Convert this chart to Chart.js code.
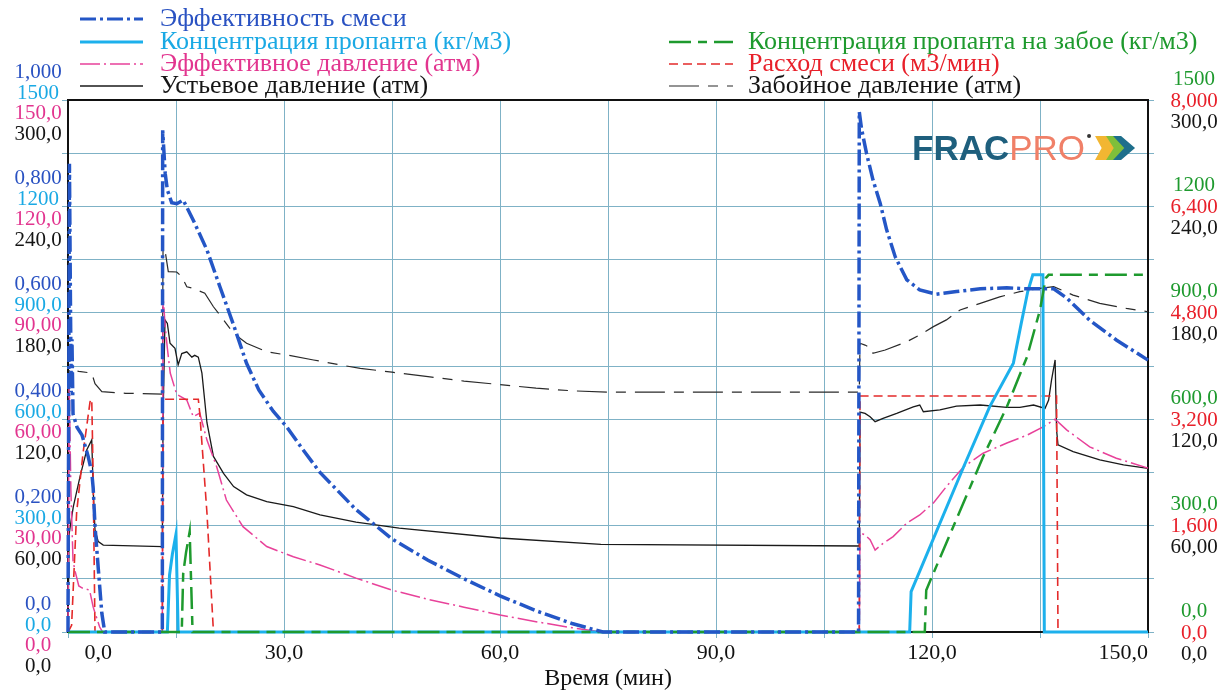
<!DOCTYPE html>
<html>
<head>
<meta charset="utf-8">
<script src="https://cdn.jsdelivr.net/npm/chart.js@4.4.0/dist/chart.umd.min.js"></script>
<style>
  html, body { margin: 0; padding: 0; background: #fff; }
</style>
</head>
<body>
<canvas id="frac" width="1222" height="693"></canvas>
<script>
// time (min), value pairs
const mixEfficiency = [
  [0,0],[0.1,0.45],[0.2,0.88],[0.35,0.6],[0.45,0.45],[0.55,0.55],[0.7,0.41],[1.25,0.385],[1.95,0.37],
  [2.8,0.33],[3.3,0.3],[3.5,0.27],[3.75,0.2],[4.2,0.12],[4.7,0.035],[5.1,0],
  [13.1,0],[13.15,0.943],[13.5,0.862],[13.8,0.831],[14.4,0.807],[15.1,0.805],[16.0,0.812],[17.4,0.774],
  [19.3,0.718],[21.1,0.649],[23.0,0.577],[24.8,0.505],[26.5,0.455],[28.5,0.415],[30.4,0.385],[32.5,0.345],
  [35,0.3],[40,0.23],[45,0.175],[50,0.135],[55,0.1],[60,0.068],[65,0.04],[70,0.016],[74.3,0],
  [109.8,0],[109.9,0.978],[110.2,0.947],[110.9,0.9],[111.8,0.85],[112.8,0.806],[113.7,0.756],[114.9,0.705],
  [116.5,0.662],[118.3,0.643],[120.6,0.635],[123.4,0.64],[126.7,0.645],[130.4,0.647],[133.2,0.645],
  [136.9,0.645],[138.7,0.628],[141.9,0.586],[145.6,0.549],[150,0.511]
];
const proppantConc = [
  [0,0],[13.8,0],[14.1,160],[14.5,220],[15.0,276],[15.3,0],
  [116.9,0],[117.1,114],[124.4,466],[128,635],[131.3,758],[132.4,871],[133.3,960],[134,1007],
  [135.4,1007],[135.6,0],[150,0]
];
const effPressure = [
  [0,0],[0.15,72],[0.4,40],[0.7,20],[1.0,17],[1.5,13],[2.0,12.4],[3.0,11.8],[3.5,7],[4.4,1.4],[4.8,0],
  [13.1,0],[13.2,95],[13.5,86],[13.8,80],[14.2,73],[15.1,67],[16.5,65.4],[17.4,60.7],[18.3,61.7],
  [19.3,54.1],[20.65,46.6],[22.0,37.2],[24.3,29.7],[27.6,24.1],[31.3,21.2],[35,18.9],[40,15.2],[45,11.8],
  [50,9.2],[55,7],[60,4.8],[65,2.9],[70,1.2],[74.3,0],
  [109.9,0],[110.0,27.9],[110.7,27.4],[111.4,26],[112.1,23.1],[113.2,25],[114.6,26.9],[116.5,30.7],
  [118.3,33],[120.2,36.4],[122,41],[124.4,46.6],[127.1,50.4],[130.4,53.3],[133.2,55.5],[135.5,57.9],
  [137.1,60],[138.7,57],[141.9,52.2],[145.6,49],[150,46.2]
];
const wellheadPressure = [
  [0,0],[0.15,55],[0.4,62],[0.74,70.7],[1.67,87.6],[2.6,102.6],[3.3,108.3],[3.5,80],[3.75,57.5],
  [4.2,51],[4.9,49],[13.1,48.1],
  [13.2,120],[13.47,176],[13.8,174],[14.17,162.8],[14.86,160],[15.3,150.6],[15.8,157],[16.5,158],
  [17.2,155],[17.6,156],[18.1,155],[18.6,146],[19.3,118],[20.2,99],[21.6,89.5],[23,82],[24.8,77.3],
  [27.6,73.5],[31.3,70.7],[35,66],[40,62],[46,58.6],[60,53],[74,49.4],[109.9,48.5],
  [110.0,124],[110.7,123.3],[111.4,121.4],[112.1,118.6],[113.2,120.5],[115.1,123.3],[117.4,127],
  [118.3,128],[118.8,124.2],[121.1,125.2],[123.4,127.4],[126.7,128],[130.4,126.7],[132.2,126.7],
  [134.1,128],[135.7,126.1],[136.2,130.8],[136.6,142],[137.1,153.4],[137.3,113.9],[137.5,105.5],
  [139.6,101.7],[143.3,97],[146.6,94.2],[150,92.3]
];
const bottomConc = [
  [0,0],[15.8,0],[16.0,165],[16.4,225],[16.9,283],[17.3,0],
  [119,0],[119.2,118],[120.2,166],[127.1,494],[130.4,635],[133.2,776],[135,908],[135.8,998],
  [136.2,1007],[150,1007]
];
const slurryRate = [
  [0,0],[0.5,0.1],[1.2,1.8],[2.1,2.7],[3.06,3.46],[3.3,3.5],[3.5,2.3],[3.75,0],
  [13.1,0],[13.2,3.5],[18.1,3.5],[18.3,3.29],[19.3,1.79],[20.2,0],
  [109.9,0],[110.0,3.55],[137.3,3.55],[137.5,0],[150,0]
];
const bottomholePressure = [
  [0,0],[0.15,148],[1.5,147],[3.3,146],[3.75,140],[4.7,135.5],[8,134.6],[13.1,134.2],
  [13.2,217],[13.47,215.4],[13.93,203.2],[15.1,203],[15.8,200.4],[16.5,194.7],[17.4,193.8],[19,191],
  [20.2,183.4],[21.6,176],[23,168.4],[24.8,162.8],[27.6,158],[30.4,156.2],[34.1,153.4],[37.8,150.6],
  [40.6,148.7],[45,146.5],[50,144],[55,141.5],[60,139.5],[65,137.5],[70,136],[75,135.3],[109.9,135.3],
  [110.0,162.8],[110.7,161.8],[111.6,160],[111.8,157.2],[113.5,159],[116.5,163.7],[118.3,167.5],
  [120.2,172.2],[122,176],[123.9,181.6],[126.7,185.3],[129.4,189],[132.2,191.9],[135,193.8],
  [136.9,194.7],[139.6,190],[143.3,185.3],[147,182.5],[150,180.6]
];

// stacked axis tick labels
const effTicks = ['0,0', '0,200', '0,400', '0,600', '0,800', '1,000'];
const concTicks = ['0,0', '300,0', '600,0', '900,0', '1200', '1500'];
const effPressTicks = ['0,0', '30,00', '60,00', '90,00', '120,0', '150,0'];
const pressTicks = ['0,0', '60,00', '120,0', '180,0', '240,0', '300,0'];
const rateTicks = ['0,0', '1,600', '3,200', '4,800', '6,400', '8,000'];

const serif = '"Liberation Serif", "Times New Roman", serif';
const gridColor = '#7fb2c6';

const axisGroups = [
  { axis: 'yEff', labels: effTicks, color: '#2a52c2', x: 38, dy: -28 },
  { axis: 'yConc', labels: concTicks, color: '#1aa9e4', x: 38, dy: -7 },
  { axis: 'yEffP', labels: effPressTicks, color: '#e2358f', x: 38, dy: 13 },
  { axis: 'yWell', labels: pressTicks, color: '#151515', x: 38, dy: 34 },
  { axis: 'yBhConc', labels: concTicks, color: '#1e9a2e', x: 1194, dy: -21 },
  { axis: 'yRate', labels: rateTicks, color: '#e8202a', x: 1194, dy: 1 },
  { axis: 'yBh', labels: pressTicks, color: '#151515', x: 1194, dy: 22 }
];

function series(label, pts, axis, color, width, dash, textColor, col, row) {
  return {
    label: label,
    data: pts.map(p => ({ x: p[0], y: p[1] })),
    yAxisID: axis,
    borderColor: color,
    borderWidth: width,
    borderDash: dash,
    pointRadius: 0,
    tension: 0,
    fill: false,
    clip: 4,
    legendText: textColor,
    legendCol: col,
    legendRow: row
  };
}

const datasets = [
  series('Эффективность смеси', mixEfficiency, 'yEff', '#2456c6', 3.5, [16, 4, 3, 4], '#2a52c2', 0, 0),
  series('Концентрация пропанта на забое (кг/м3)', bottomConc, 'yBhConc', '#1e9a2e', 2.5, [22, 7, 9, 7], '#1e9a2e', 1, 1),
  series('Концентрация пропанта (кг/м3)', proppantConc, 'yConc', '#1cb0ec', 3, [], '#1aa9e4', 0, 1),
  series('Расход смеси (м3/мин)', slurryRate, 'yRate', '#e42a2a', 1.6, [9, 5], '#e8202a', 1, 2),
  series('Эффективное давление (атм)', effPressure, 'yEffP', '#e8429a', 1.5, [20, 4, 2, 4], '#e2358f', 0, 2),
  series('Устьевое давление (атм)', wellheadPressure, 'yWell', '#1a1a1a', 1.3, [], '#151515', 0, 3),
  series('Забойное давление (атм)', bottomholePressure, 'yBh', '#2a2a2a', 1.2, [30, 9, 10, 9], '#151515', 1, 3)
];

const fracDecor = {
  id: 'fracDecor',
  beforeDraw(chart) {
    const ctx = chart.ctx;
    ctx.save();
    ctx.fillStyle = '#fff';
    ctx.fillRect(0, 0, chart.width, chart.height);
    ctx.restore();
  },
  beforeDatasetsDraw(chart) {
    const { ctx, chartArea: a } = chart;
    ctx.save();
    ctx.strokeStyle = '#111';
    ctx.lineWidth = 2;
    ctx.strokeRect(a.left, a.top, a.right - a.left, a.bottom - a.top);
    ctx.restore();
  },
  afterDraw(chart) {
    const ctx = chart.ctx;
    ctx.save();

    // stacked tick labels for all seven scales
    ctx.font = '21px ' + serif;
    ctx.textAlign = 'center';
    ctx.textBaseline = 'middle';
    axisGroups.forEach(g => {
      const s = chart.scales[g.axis];
      g.labels.forEach((txt, i) => {
        const y = s.getPixelForValue(s.min + (s.max - s.min) * i / (g.labels.length - 1));
        ctx.fillStyle = g.color;
        ctx.fillText(txt, g.x, y + g.dy);
      });
    });

    // legend, two columns
    const cols = [{ x1: 80, x2: 143, tx: 160 }, { x1: 669, x2: 733, tx: 748 }];
    const rows = [19, 42, 64, 86];
    ctx.font = '26px ' + serif;
    ctx.textAlign = 'left';
    chart.data.datasets.forEach(ds => {
      const c = cols[ds.legendCol];
      const y = rows[ds.legendRow];
      ctx.strokeStyle = ds.borderColor;
      ctx.lineWidth = Math.min(ds.borderWidth, 3);
      ctx.setLineDash(ds.borderDash);
      ctx.beginPath();
      ctx.moveTo(c.x1, y);
      ctx.lineTo(c.x2, y);
      ctx.stroke();
      ctx.setLineDash([]);
      ctx.fillStyle = ds.legendText;
      ctx.fillText(ds.label, c.tx, y);
    });

    // FRACPRO logo
    ctx.textBaseline = 'alphabetic';
    ctx.font = 'bold 35px "Liberation Sans", Arial, sans-serif';
    ctx.fillStyle = '#1e5f7d';
    ctx.fillText('FRAC', 912, 160);
    const w = ctx.measureText('FRAC').width;
    ctx.font = '35px "Liberation Sans", Arial, sans-serif';
    ctx.fillStyle = '#f08068';
    ctx.fillText('PRO', 912 + w, 160);
    const w2 = ctx.measureText('PRO').width;
    const lx = 912 + w + w2;
    ctx.fillStyle = '#333';
    ctx.beginPath();
    ctx.arc(lx + 4, 136, 2, 0, Math.PI * 2);
    ctx.fill();
    const ix = lx + 12;
    const chevron = (x, col, s) => {
      ctx.fillStyle = col;
      ctx.beginPath();
      ctx.moveTo(x, 136);
      ctx.lineTo(x + 20 * s, 136);
      ctx.lineTo(x + 34 * s, 148);
      ctx.lineTo(x + 20 * s, 160);
      ctx.lineTo(x, 160);
      ctx.lineTo(x + 12 * s, 148);
      ctx.closePath();
      ctx.fill();
    };
    chevron(ix + 4, '#1e6f8c', 1);
    chevron(ix, '#7fbf3a', 0.8);
    chevron(ix - 2, '#f2b632', 0.55);

    ctx.restore();
  }
};

const hiddenY = (pos, max) => ({ position: pos, display: false, min: 0, max: max });

new Chart(document.getElementById('frac'), {
  type: 'line',
  data: { datasets: datasets },
  options: {
    responsive: false,
    animation: false,
    layout: { padding: { top: 100, left: 0, right: 0, bottom: 0 } },
    plugins: { legend: { display: false }, tooltip: { enabled: false } },
    scales: {
      x: {
        type: 'linear',
        min: 0,
        max: 150,
        ticks: {
          stepSize: 15,
          autoSkip: false,
          maxRotation: 0,
          align: 'inner',
          padding: 2,
          color: '#111',
          font: { family: serif, size: 22 },
          callback: v => v % 30 === 0 ? (v === 0 ? '\u2002 0,0' : v.toFixed(1).replace('.', ',')) : ''
        },
        grid: { color: gridColor, tickLength: 6 },
        border: { display: false },
        title: {
          display: true,
          text: 'Время (мин)',
          color: '#111',
          font: { family: serif, size: 24 },
          padding: { top: 0, bottom: 0 }
        },
        afterFit: s => { s.height = 61; }
      },
      yEff: {
        position: 'left',
        min: 0,
        max: 1,
        ticks: { display: false, stepSize: 0.1 },
        grid: { color: gridColor, tickLength: 6 },
        border: { display: false },
        afterFit: s => { s.width = 68; }
      },
      yConc: hiddenY('left', 1500),
      yEffP: hiddenY('left', 150),
      yWell: hiddenY('left', 300),
      yBhConc: hiddenY('right', 1500),
      yRate: hiddenY('right', 8),
      yBh: {
        position: 'right',
        min: 0,
        max: 300,
        ticks: { display: false, stepSize: 30 },
        grid: { color: gridColor, tickLength: 6, drawOnChartArea: false },
        border: { display: false },
        afterFit: s => { s.width = 74; }
      }
    }
  },
  plugins: [fracDecor]
});
</script>
</body>
</html>
